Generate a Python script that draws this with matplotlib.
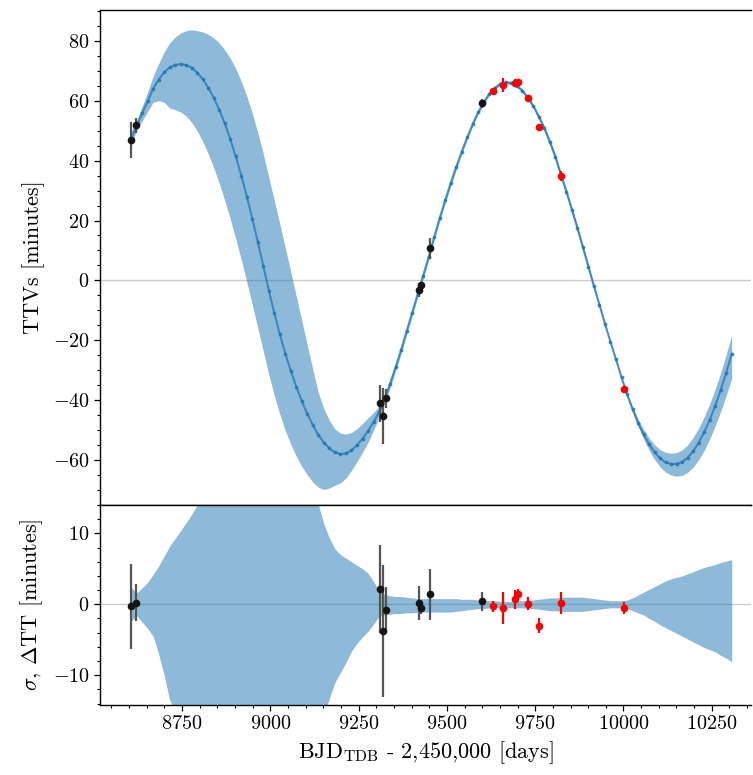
import numpy as np
import matplotlib
matplotlib.use("Agg")
import matplotlib.pyplot as plt
from matplotlib.ticker import AutoMinorLocator, MultipleLocator

plt.rcParams['font.family'] = 'serif'
plt.rcParams['font.serif'] = ['cmr10']
plt.rcParams['mathtext.fontset'] = 'cm'
plt.rcParams['axes.formatter.use_mathtext'] = True
plt.rcParams['axes.unicode_minus'] = True

# ---- model transit epochs (BJD - 2450000) ----
t0_model = 8606.0
step_model = 15.6
n_model = 110

model_ttv = [47.3, 51.7, 55.8, 59.8, 64.0, 67.0, 69.5, 71.1, 72.0, 72.2,
             71.9, 71.0, 69.4, 67.2, 64.4, 61.0, 57.0, 52.4, 47.2, 41.4,
             35.0, 28.0, 20.6, 12.8, 4.8, -3.4, -11.0, -18.0, -24.5, -30.3,
             -35.6, -40.4, -44.6, -48.4, -51.6, -54.2, -56.1, -57.4, -58.0, -57.8,
             -56.8, -55.0, -52.8, -50.3, -47.3, -44.0, -39.6, -34.5, -29.0, -23.2,
             -17.0, -10.8, -4.6, 1.6, 7.8, 14.5, 20.8, 26.8, 32.5, 37.9,
             43.0, 47.8, 52.2, 56.2, 59.5, 62.3, 64.3, 65.6, 66.1, 66.0,
             65.0, 63.4, 61.0, 58.2, 54.7, 50.8, 46.3, 41.2, 35.3, 29.6,
             23.6, 17.4, 11.0, 4.5, -2.0, -8.2, -14.5, -20.6, -26.4, -32.4,
             -38.0, -43.0, -47.5, -51.4, -54.7, -57.4, -59.4, -60.7, -61.3, -61.3,
             -60.6, -59.2, -57.0, -54.2, -50.7, -46.6, -41.9, -36.6, -30.8, -24.6]

band_hi = [2.4, 1.6, 2.3, 3.1, 4.2, 5.4, 6.8, 8.2, 9.3, 10.4,
           11.5, 12.7, 14.0, 15.8, 17.8, 20.0, 22.3, 24.6, 27.0, 29.3,
           31.5, 33.5, 35.2, 36.5, 37.4, 37.8, 37.6, 36.8, 35.2, 33.0,
           30.2, 26.8, 22.8, 18.5, 14.0, 11.3, 9.3, 7.8, 7.0, 6.5,
           6.0, 5.5, 5.0, 4.4, 3.2, 1.9, 1.4, 1.2, 1.1, 1.1,
           1.0, 0.9, 0.8, 0.8, 0.8, 0.8, 0.8, 0.8, 0.8, 0.8,
           0.7, 0.7, 0.7, 0.6, 0.6, 0.5, 0.5, 0.4, 0.4, 0.4,
           0.5, 0.5, 0.6, 0.6, 0.7, 0.8, 0.9, 0.9, 1.0, 1.0,
           1.0, 1.0, 1.0, 0.9, 0.8, 0.7, 0.6, 0.5, 0.5, 0.5,
           0.6, 0.9, 1.3, 1.7, 2.1, 2.5, 2.9, 3.3, 3.6, 3.8,
           4.0, 4.3, 4.6, 4.9, 5.2, 5.4, 5.6, 5.9, 6.1, 6.3]

band_lo = [2.4, 1.6, 2.5, 3.4, 4.5, 7.0, 10.0, 13.5, 15.0, 16.0,
           17.0, 18.2, 19.5, 20.8, 22.1, 23.4, 24.6, 25.7, 26.7, 27.5,
           28.1, 28.5, 28.7, 28.7, 28.5, 28.1, 27.5, 26.7, 25.7, 24.5,
           23.2, 21.8, 20.4, 19.0, 17.5, 15.6, 13.2, 11.0, 9.6, 8.2,
           6.6, 5.5, 4.6, 3.8, 2.8, 1.7, 1.5, 1.4, 1.3, 1.3,
           1.2, 1.2, 1.1, 1.1, 1.1, 1.1, 1.1, 1.1, 1.1, 1.0,
           0.9, 0.8, 0.7, 0.6, 0.6, 0.5, 0.5, 0.5, 0.5, 0.5,
           0.5, 0.5, 0.6, 0.6, 0.7, 0.8, 0.9, 0.9, 1.0, 1.0,
           1.0, 1.0, 1.0, 0.9, 0.8, 0.7, 0.6, 0.5, 0.5, 0.5,
           0.6, 0.9, 1.2, 1.5, 2.0, 2.4, 2.9, 3.3, 3.7, 4.1,
           4.5, 4.9, 5.3, 5.7, 6.1, 6.4, 6.7, 7.2, 7.6, 8.1]

# ---- observed transits (black: earlier data, red: new data) ----
black_t = [8606, 8621, 9311, 9319, 9327, 9420, 9427, 9451, 9599]
black_ttv = [47.0, 51.8, -41.1, -45.2, -39.4, -3.3, -1.7, 10.7, 59.1]
black_res = [-0.3, 0.2, 2.1, -3.8, -0.8, 0.2, -0.5, 1.4, 0.4]
black_err = [6.0, 2.6, 6.2, 9.3, 3.3, 2.4, 0.8, 3.6, 1.4]

red_t = [9630, 9660, 9692, 9700, 9731, 9762, 9824, 10002]
red_ttv = [63.2, 65.3, 65.8, 66.2, 60.9, 51.2, 34.9, -36.3]
red_res = [-0.3, -0.5, 0.7, 1.4, 0.1, -3.0, 0.2, -0.5]
red_err = [0.8, 2.3, 1.3, 0.8, 0.9, 1.1, 1.6, 0.8]

t_model = t0_model + step_model * np.arange(n_model)
m = np.array(model_ttv)
hi = np.array(band_hi)
lo = np.array(band_lo)

fig = plt.figure(figsize=(7.53, 7.75), dpi=100)
W, H = 753.0, 775.0
ax1 = fig.add_axes([100 / W, 1 - 505 / H, 651 / W, 495 / H])
ax2 = fig.add_axes([100 / W, 1 - 705 / H, 651 / W, 200 / H], sharex=ax1)

band_color = '#1f77b4'

# top panel
ax1.axhline(0, color='#cccccc', lw=1.0, zorder=0)
ax1.fill_between(t_model, m - lo, m + hi, color=band_color, alpha=0.5, lw=0, zorder=1)
ax1.plot(t_model, m, '.-', color=band_color, alpha=0.75, lw=1.5, ms=3.5, zorder=2)
ax1.errorbar(black_t, black_ttv, yerr=black_err, fmt='o', color='#151515', ecolor='#555555',
             elinewidth=1.6, ms=4.5, capsize=0, zorder=4)
ax1.errorbar(red_t, red_ttv, yerr=red_err, fmt='o', color='red', ecolor='red',
             elinewidth=1.6, ms=4.5, capsize=0, zorder=5)

# bottom panel
ax2.axhline(0, color='#cccccc', lw=1.0, zorder=0)
ax2.fill_between(t_model, -lo, hi, color=band_color, alpha=0.5, lw=0, zorder=1)
ax2.errorbar(black_t, black_res, yerr=black_err, fmt='o', color='#151515', ecolor='#555555',
             elinewidth=1.6, ms=4.5, capsize=0, zorder=4)
ax2.errorbar(red_t, red_res, yerr=red_err, fmt='o', color='red', ecolor='red',
             elinewidth=1.6, ms=4.5, capsize=0, zorder=5)

ax1.set_xlim(8518, 10361)
ax1.set_ylim(-75, 90.3)
ax2.set_ylim(-14.2, 14.0)

ax1.yaxis.set_major_locator(MultipleLocator(20))
ax1.yaxis.set_minor_locator(AutoMinorLocator())
ax2.yaxis.set_major_locator(MultipleLocator(10))
ax2.yaxis.set_minor_locator(AutoMinorLocator())
ax2.xaxis.set_major_locator(MultipleLocator(250))
ax2.xaxis.set_minor_locator(AutoMinorLocator())

for ax in (ax1, ax2):
    ax.spines['right'].set_visible(False)
    for s in ax.spines.values():
        s.set_linewidth(1.0)
    ax.tick_params(which='major', direction='out', length=4, width=0.9, labelsize=14.5, top=False, right=False)
    ax.tick_params(which='minor', direction='out', length=2.2, width=0.8, top=False, right=False)

ax1.tick_params(axis='x', which='both', bottom=False, labelbottom=False)

ax1.set_ylabel('TTVs [minutes]', fontsize=16)
ax2.set_ylabel(r'$\sigma$, $\Delta$TT [minutes]', fontsize=16)
ax2.set_xlabel(r'BJD$_{\rm TDB}$ - 2,450,000 [days]', fontsize=16)
ax1.yaxis.set_label_coords(-0.085, 0.5)
ax2.yaxis.set_label_coords(-0.085, 0.5)

fig.savefig('out.png', dpi=100)
